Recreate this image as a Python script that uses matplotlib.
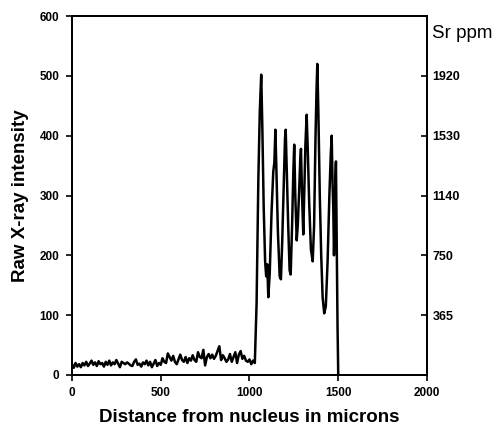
import matplotlib
matplotlib.use("Agg")
import matplotlib.pyplot as plt

# Sr line scan: raw X-ray intensity vs distance from the otolith nucleus
base_x = list(range(0, 1040, 10))
base_y = [18, 12, 20, 14, 18, 13, 20, 16, 22, 15,
          19, 24, 17, 21, 15, 23, 18, 20, 14, 22,
          17, 24, 16, 21, 18, 25, 19, 13, 22, 20,
          18, 21, 19, 16, 15, 22, 26, 17, 19, 14,
          21, 18, 24, 16, 22, 13, 19, 25, 15, 20,
          17, 28, 22, 20, 36, 30, 24, 32, 22, 18,
          26, 34, 25, 22, 30, 20, 28, 24, 33, 25,
          22, 38, 30, 28, 42, 16, 30, 35, 28, 34,
          27, 32, 40, 48, 25, 33, 28, 22, 26, 35,
          22, 30, 38, 20, 34, 40, 27, 32, 24, 22,
          26, 18, 24, 20]

peak_x = [1040, 1050, 1058, 1066, 1072, 1080, 1088, 1094, 1100, 1106,
          1114, 1124, 1134, 1140, 1146, 1152, 1160, 1170, 1177, 1184,
          1194, 1200, 1204, 1210, 1218, 1226, 1232, 1240, 1247, 1252,
          1258, 1266, 1272, 1280, 1286, 1290, 1296, 1303, 1308, 1315,
          1322, 1328, 1336, 1346, 1356, 1364, 1372, 1378, 1382, 1388,
          1396, 1404, 1412, 1421, 1430, 1440, 1450, 1458, 1463, 1468,
          1472, 1476, 1480, 1484, 1487, 1492, 1496, 1500]
peak_y = [120, 330, 440, 502, 420, 280, 190, 165, 185, 130,
          170, 270, 340, 355, 410, 340, 240, 165, 160, 220,
          330, 395, 410, 340, 250, 175, 168, 250, 340, 385,
          300, 225, 250, 310, 360, 378, 300, 235, 300, 385,
          435, 380, 290, 210, 190, 250, 400, 480, 520, 440,
          300, 200, 130, 103, 115, 190, 300, 370, 400, 320,
          280, 200, 260, 330, 357, 200, 80, 0]

distance = base_x + peak_x
intensity = base_y + peak_y

x_ticks = [0, 500, 1000, 1500, 2000]
y_ticks = [0, 100, 200, 300, 400, 500, 600]
sr_ticks = [100, 200, 300, 400, 500]
sr_labels = ["365", "750", "1140", "1530", "1920"]

plt.rcParams["font.family"] = ["Liberation Sans", "DejaVu Sans"]

fig = plt.figure(figsize=(5.02, 4.34), dpi=100)
ax = fig.add_axes([0.1434, 0.136, 0.7072, 0.827])

ax.plot(distance, intensity, color="black", lw=1.8, solid_joinstyle="round")

ax.set_xlim(0, 2000)
ax.set_ylim(0, 600)
ax.set_xticks(x_ticks)
ax.set_yticks(y_ticks)
ax.tick_params(direction="out", length=4, width=1.2, labelsize=8.5, pad=5)
for lab in ax.get_xticklabels() + ax.get_yticklabels():
    lab.set_fontweight("bold")
for s in ax.spines.values():
    s.set_linewidth(1.3)

ax.set_xlabel("Distance from nucleus in microns", fontsize=13.5, fontweight="bold", labelpad=7)
ax.set_ylabel("Raw X-ray intensity", fontsize=13.5, fontweight="bold", labelpad=8)

ax2 = ax.twinx()
ax2.set_ylim(0, 600)
ax2.set_yticks(sr_ticks)
ax2.set_yticklabels(sr_labels)
ax2.tick_params(direction="in", length=4, width=1.2, labelsize=9, pad=4)
for lab in ax2.get_yticklabels():
    lab.set_fontweight("bold")
for s in ax2.spines.values():
    s.set_linewidth(1.3)

fig.text(0.861, 0.922, "Sr ppm", fontsize=13.5, ha="left", va="center")

fig.savefig("out.png", dpi=100)
